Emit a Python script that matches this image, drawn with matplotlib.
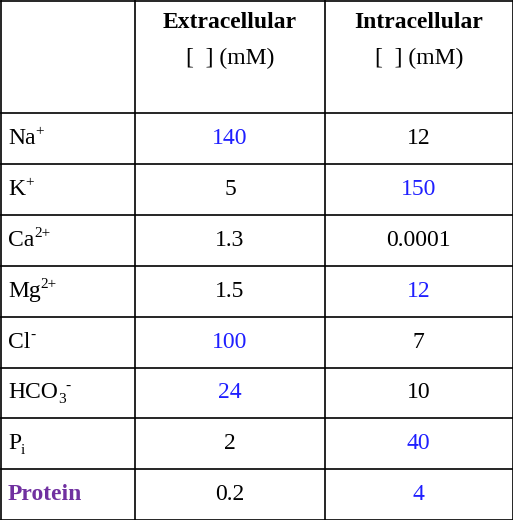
import matplotlib
matplotlib.use("Agg")
import matplotlib.pyplot as plt

plt.rcParams['font.family'] = ['Liberation Serif', 'DejaVu Serif']

headers = ["Extracellular\n[  ] (mM)", "Intracellular\n[  ] (mM)"]
# (base, subscript, superscript)
ions = [("Na", "", "+"), ("K", "", "+"), ("Ca", "", "2+"), ("Mg", "", "2+"), ("Cl", "", "-"),
        ("HCO", "3", "-"), ("P", "i", ""), ("Protein", "", "")]
extra = ["140", "5", "1.3", "1.5", "100", "24", "2", "0.2"]
intra = ["12", "150", "0.0001", "12", "7", "10", "40", "4"]
extra_blue = [True, False, False, False, True, True, False, False]
intra_blue = [False, True, False, True, False, False, True, True]

BLUE = "#1f1fff"
PURPLE = "#7030a0"
W, H = 513, 520
fig = plt.figure(figsize=(W/100, H/100), dpi=100)
ax = fig.add_axes([0, 0, 1, 1])
ax.set_xlim(0, W); ax.set_ylim(H, 0); ax.axis('off')

cols = [0.5, 135, 325, W-0.5]
rows = [0.5, 113] + [113 + 50.9*(i+1) for i in range(len(ions))]
rows[-1] = H - 0.5
for x in cols:
    ax.plot([x, x], [rows[0], rows[-1]], color='black', lw=1.2)
for y in rows:
    ax.plot([cols[0], cols[-1]], [y, y], color='black', lw=1.2)

fs = 17
for j, h in enumerate(headers):
    cx = (cols[j+1] + cols[j+2]) / 2
    t1, t2 = h.split("\n")
    ax.text(cx, 22, t1, ha='center', va='center', fontsize=fs, fontweight='bold')
    ax.text(cx, 58, t2, ha='center', va='center', fontsize=fs)

fig.canvas.draw()
r = fig.canvas.get_renderer()
for i, (base, sub, sup) in enumerate(ions):
    cy = (rows[i+1] + rows[i+2]) / 2
    if base == "Protein":
        ax.text(8, cy, base, ha='left', va='center', fontsize=fs, fontweight='bold', color=PURPLE)
    else:
        t = ax.text(8, cy, base, ha='left', va='center', fontsize=fs)
        bb = t.get_window_extent(r)
        x_end = bb.x1 * 1.0  # pixel = data units here
        xe = x_end
        if sub:
            ts = ax.text(xe, cy + 7, sub, ha='left', va='center', fontsize=11)
            xe = ts.get_window_extent(r).x1
        if sup:
            ax.text(xe, cy - 7, sup.replace("-", "\u2011" if False else "-"), ha='left',
                    va='center', fontsize=11)
    ax.text((cols[1]+cols[2])/2, cy, extra[i], ha='center', va='center', fontsize=fs,
            color=BLUE if extra_blue[i] else 'black')
    ax.text((cols[2]+cols[3])/2, cy, intra[i], ha='center', va='center', fontsize=fs,
            color=BLUE if intra_blue[i] else 'black')

fig.savefig("out.png", dpi=100)
